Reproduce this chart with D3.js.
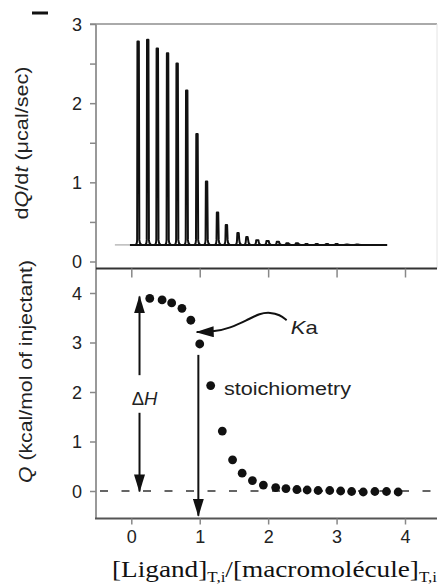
<!DOCTYPE html>
<html>
<head>
<meta charset="utf-8">
<script src="https://cdn.jsdelivr.net/npm/d3@7"></script>
<style>
  body { margin: 0; background: #fff; }
  svg { display: block; }
  .tick text { font-family: "Liberation Sans", Arial, sans-serif; font-size: 18px; fill: #222; }
</style>
</head>
<body>
<svg id="chart" width="438" height="585"></svg>
<script>
// ---- data ----
// top panel: injection peaks (position, height in ucal/sec)
var peakX = [0.10, 0.24, 0.38, 0.53, 0.67, 0.81, 0.96, 1.10, 1.26, 1.39, 1.56, 1.69, 1.84, 1.99, 2.14, 2.28, 2.42, 2.56, 2.71, 2.86, 3.00, 3.15, 3.30];
var peakH = [2.78, 2.80, 2.69, 2.63, 2.50, 2.16, 1.61, 1.01, 0.62, 0.46, 0.36, 0.31, 0.27, 0.26, 0.25, 0.23, 0.23, 0.22, 0.22, 0.22, 0.22, 0.215, 0.215];
var baseLevel = 0.21;
var baseStart = -0.24, baseDark = -0.02, baseEnd = 3.74;

// bottom panel: integrated heats
var qX = [0.27, 0.45, 0.59, 0.74, 0.87, 1.00, 1.16, 1.33, 1.48, 1.62, 1.77, 1.93, 2.11, 2.26, 2.42, 2.57, 2.73, 2.90, 3.06, 3.22, 3.39, 3.56, 3.73, 3.90];
var qY = [3.89, 3.86, 3.80, 3.69, 3.45, 2.97, 2.13, 1.21, 0.63, 0.36, 0.21, 0.12, 0.07, 0.05, 0.03, 0.02, 0.01, 0.01, 0.00, -0.01, -0.02, -0.01, -0.01, -0.02];

// ticks
var xTicks = [0, 1, 2, 3, 4];
var topTicks = [0, 0.5, 1, 1.5, 2, 2.5, 3];
var botTicks = [0, 1, 2, 3, 4];

// annotations (data coords of the bottom panel)
var dH = { x: 0.12, top: 3.93, bottom: -0.01, gapTop: 2.34, gapBottom: 1.58, labelY: 1.88 };
var stoich = { x: 0.98, top: 2.75, bottom: -0.5, labelX: 1.355, labelY: 1.94 };
var kaCurve = [[1.22, 3.22], [1.44, 3.29], [1.69, 3.45], [1.88, 3.59], [2.03, 3.61], [2.17, 3.56], [2.27, 3.45]];
var kaTip = [0.956, 3.21];
var kaLabel = [2.33, 3.17];

// ---- layout ----
var svg = d3.select("#chart");
var left = 96, right = 437;
var topY = 24, midY = 268.5, botY = 518.5;
var sans = "'Liberation Sans', Arial, sans-serif";

var x = d3.scaleLinear().domain([0, 4]).range([131.3, 405]);
var yTop = d3.scaleLinear().domain([0, 3]).range([261.5, 24]);
var yBot = d3.scaleLinear().domain([0, 4]).range([491, 293]);

var defs = svg.append("defs");
defs.append("marker")
    .attr("id", "head")
    .attr("viewBox", "0 0 18 11")
    .attr("refX", 17).attr("refY", 5.5)
    .attr("markerWidth", 18).attr("markerHeight", 11)
    .attr("markerUnits", "userSpaceOnUse")
    .attr("orient", "auto")
  .append("path")
    .attr("d", "M0,0 L18,5.5 L0,11 Z")
    .attr("fill", "#111");

// small mark in the top-left corner
svg.append("rect").attr("x", 32).attr("y", 11.5).attr("width", 16).attr("height", 3).attr("fill", "#111");

// ---- frames ----
svg.append("line").attr("x1", 90).attr("x2", right).attr("y1", topY).attr("y2", topY)
    .attr("stroke", "#aaa").attr("stroke-width", 2);
svg.append("line").attr("x1", right).attr("x2", right).attr("y1", topY).attr("y2", midY)
    .attr("stroke", "#e4e4e4").attr("stroke-width", 1);
svg.append("line").attr("x1", left).attr("x2", left).attr("y1", topY).attr("y2", botY)
    .attr("stroke", "#999").attr("stroke-width", 2);
svg.append("line").attr("x1", left).attr("x2", right).attr("y1", midY).attr("y2", midY)
    .attr("stroke", "#333").attr("stroke-width", 2);
svg.append("line").attr("x1", left - 1).attr("x2", right).attr("y1", botY).attr("y2", botY)
    .attr("stroke", "#555").attr("stroke-width", 2);

// ---- axes ----
var gTop = svg.append("g").attr("transform", `translate(${left},0)`)
  .call(d3.axisLeft(yTop).tickValues(topTicks).tickSize(6).tickPadding(8)
        .tickFormat(d => d % 1 === 0 ? d3.format("d")(d) : ""));
var gBotY = svg.append("g").attr("transform", `translate(${left},0)`)
  .call(d3.axisLeft(yBot).tickValues(botTicks).tickSize(6).tickPadding(8).tickFormat(d3.format("d")));
var gX = svg.append("g").attr("transform", `translate(0,${botY})`)
  .call(d3.axisBottom(x).tickValues(xTicks).tickSize(6).tickPadding(6).tickFormat(d3.format("d")));
var gMid = svg.append("g").attr("transform", `translate(0,${midY})`)
  .call(d3.axisBottom(x).tickValues(xTicks).tickSize(9).tickFormat(""));

[gTop, gBotY, gX, gMid].forEach(g => {
  g.select(".domain").remove();
  g.selectAll(".tick line").attr("stroke", "#888").attr("stroke-width", 1.5);
});
gTop.selectAll(".tick text").attr("dy", "0.36em");
gBotY.selectAll(".tick text").attr("dy", "0.36em");
gX.selectAll(".tick text").attr("dy", "0.72em");

// ---- top panel: thermogram ----
svg.append("line")
    .attr("x1", x(baseStart)).attr("x2", x(baseDark))
    .attr("y1", yTop(baseLevel)).attr("y2", yTop(baseLevel))
    .attr("stroke", "#bbb").attr("stroke-width", 1.5);
svg.append("line")
    .attr("x1", x(baseDark)).attr("x2", x(baseEnd))
    .attr("y1", yTop(baseLevel)).attr("y2", yTop(baseLevel))
    .attr("stroke", "#111").attr("stroke-width", 2);

var peaks = peakX.map((p, i) => ({ x: p, h: peakH[i] }));
svg.selectAll("path.peak")
  .data(peaks)
  .join("path")
    .attr("class", "peak")
    .attr("d", d => {
      var px = x(d.x), b = yTop(baseLevel), t = yTop(d.h);
      var foot = Math.max(t, b - 5);
      return `M${px - 3},${b} Q${px - 1.2},${b} ${px - 1},${foot} L${px - 0.7},${t} ` +
             `L${px + 0.7},${t} L${px + 1.2},${foot} Q${px + 1.6},${b} ${px + 4},${b}`;
    })
    .attr("fill", "none")
    .attr("stroke", "#111")
    .attr("stroke-width", 2)
    .attr("stroke-linejoin", "round");

// ---- bottom panel ----
svg.append("line")
    .attr("x1", 100).attr("x2", right)
    .attr("y1", yBot(0)).attr("y2", yBot(0))
    .attr("stroke", "#333").attr("stroke-width", 1.5)
    .attr("stroke-dasharray", "8,13.5");

// delta H double arrow
svg.append("line")
    .attr("x1", x(dH.x)).attr("x2", x(dH.x))
    .attr("y1", yBot(dH.gapTop)).attr("y2", yBot(dH.top))
    .attr("stroke", "#111").attr("stroke-width", 2).attr("marker-end", "url(#head)");
svg.append("line")
    .attr("x1", x(dH.x)).attr("x2", x(dH.x))
    .attr("y1", yBot(dH.gapBottom)).attr("y2", yBot(dH.bottom))
    .attr("stroke", "#111").attr("stroke-width", 2).attr("marker-end", "url(#head)");
var dHText = svg.append("text")
    .attr("x", x(dH.x) + 5).attr("y", yBot(dH.labelY) + 7)
    .attr("text-anchor", "middle")
    .attr("font-family", sans).attr("font-size", 18.5).attr("fill", "#222");
dHText.append("tspan").text("Δ");
dHText.append("tspan").attr("font-style", "italic").text("H");

// stoichiometry arrow
svg.append("line")
    .attr("x1", x(stoich.x)).attr("x2", x(stoich.x))
    .attr("y1", yBot(stoich.top)).attr("y2", yBot(stoich.bottom))
    .attr("stroke", "#111").attr("stroke-width", 2).attr("marker-end", "url(#head)");
svg.append("text")
    .attr("x", x(stoich.labelX)).attr("y", yBot(stoich.labelY))
    .attr("font-family", sans).attr("font-size", 18).attr("fill", "#222")
    .attr("textLength", 127).attr("lengthAdjust", "spacingAndGlyphs")
    .text("stoichiometry");

// Ka curved arrow
svg.append("path")
    .attr("d", d3.line().x(d => x(d[0])).y(d => yBot(d[1])).curve(d3.curveBasis)(kaCurve.slice().reverse().concat([kaTip])))
    .attr("fill", "none").attr("stroke", "#111").attr("stroke-width", 2)
    .attr("marker-end", "url(#head)");
var kaText = svg.append("text")
    .attr("x", x(kaLabel[0])).attr("y", yBot(kaLabel[1]))
    .attr("font-family", sans).attr("font-size", 18.5).attr("fill", "#222")
    .attr("textLength", 27).attr("lengthAdjust", "spacingAndGlyphs");
kaText.append("tspan").attr("font-style", "italic").text("K");
kaText.append("tspan").text("a");

// data dots
var pts = qX.map((v, i) => ({ x: v, y: qY[i] }));
svg.selectAll("circle.q")
  .data(pts)
  .join("circle")
    .attr("class", "q")
    .attr("cx", d => x(d.x))
    .attr("cy", d => yBot(d.y))
    .attr("r", 4.4)
    .attr("fill", "#111");

// ---- axis titles ----
var t1 = svg.append("text")
    .attr("transform", "translate(28,143) rotate(-90)")
    .attr("text-anchor", "middle")
    .attr("font-family", sans).attr("font-size", 18).attr("fill", "#222")
    .attr("textLength", 153).attr("lengthAdjust", "spacingAndGlyphs");
t1.append("tspan").text("d");
t1.append("tspan").attr("font-style", "italic").text("Q");
t1.append("tspan").text("/d");
t1.append("tspan").attr("font-style", "italic").text("t");
t1.append("tspan").text(" (μcal/sec)");

var t2 = svg.append("text")
    .attr("transform", "translate(32,371.5) rotate(-90)")
    .attr("text-anchor", "middle")
    .attr("font-family", sans).attr("font-size", 18).attr("fill", "#222")
    .attr("textLength", 223).attr("lengthAdjust", "spacingAndGlyphs");
t2.append("tspan").attr("font-style", "italic").text("Q");
t2.append("tspan").text(" (kcal/mol of injectant)");

var t3 = svg.append("text")
    .attr("x", 112).attr("y", 577)
    .attr("font-family", "'Liberation Serif', 'Times New Roman', serif")
    .attr("font-size", 22.5).attr("fill", "#111")
    .attr("textLength", 325).attr("lengthAdjust", "spacingAndGlyphs");
t3.append("tspan").text("[Ligand]");
t3.append("tspan").attr("font-size", 14).attr("dy", 5).text("T,i");
t3.append("tspan").attr("dy", -5).text("/[macromolécule]");
t3.append("tspan").attr("font-size", 14).attr("dy", 5).text("T,i");
</script>
</body>
</html>
